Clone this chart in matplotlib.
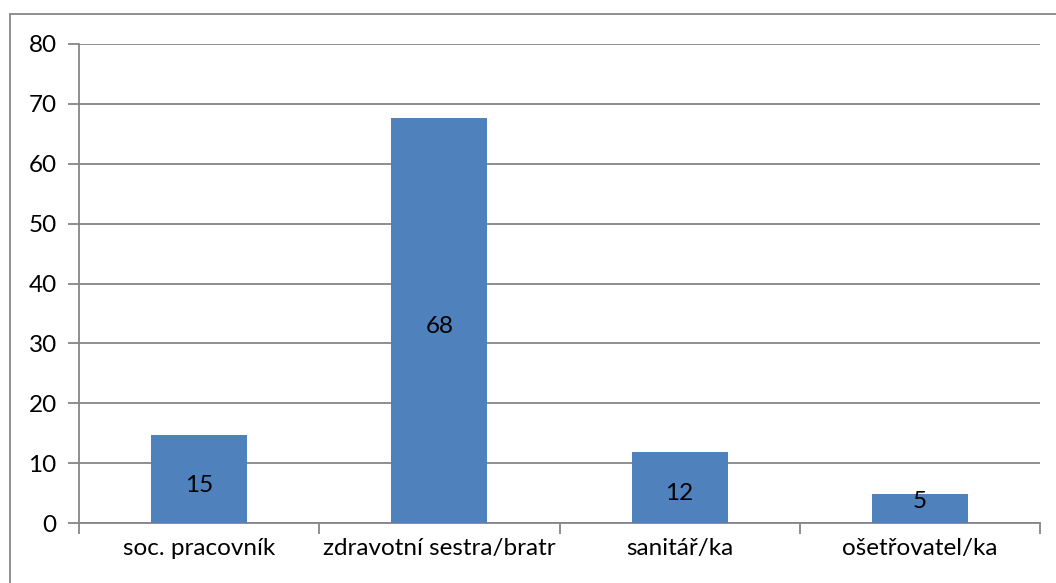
import matplotlib
matplotlib.use("Agg")
import matplotlib.pyplot as plt
from matplotlib.patches import Rectangle

categories = ["soc. pracovník", "zdravotní sestra/bratr", "sanitář/ka", "ošetřovatel/ka"]
values = [14.7, 67.6, 11.8, 4.9]
y_ticks = [0, 10, 20, 30, 40, 50, 60, 70, 80]

W, H = 1056, 583
fig = plt.figure(figsize=(W / 100, H / 100), dpi=100)
plt.rcParams["font.family"] = ["Lato", "DejaVu Sans"]

grey = "#868686"
bar_color = "#4f81bd"
fs = 17.5

# chart frame
fig.patches.append(Rectangle((10 / W, -0.1), 1.2, 1 - 14 / H + 0.1, transform=fig.transFigure,
                             fill=False, edgecolor=grey, linewidth=1.3, zorder=0))

left, right, top, bottom = 79, 1040, 44, 523
ax = fig.add_axes([left / W, 1 - bottom / H, (right - left) / W, (bottom - top) / H])

x = list(range(len(categories)))
bars = ax.bar(x, values, width=0.4, color=bar_color, zorder=3)

ax.set_xlim(-0.5, len(categories) - 0.5)
ax.set_ylim(0, 80)
ax.set_yticks(y_ticks)
ax.set_yticklabels([str(t) for t in y_ticks], fontsize=fs)
ax.yaxis.grid(True, color=grey, linewidth=1.3, zorder=0)
ax.set_axisbelow(True)

ax.set_xticks(x)
ax.set_xticklabels(categories, fontsize=fs)
ax.tick_params(axis="x", length=0, pad=11)
ax.set_xticks([i + 0.5 for i in range(-1, len(categories))], minor=True)
ax.tick_params(axis="x", which="minor", length=8, color=grey, width=1.3)
ax.tick_params(axis="y", length=8, color=grey, width=1.3, pad=8)

for s in ["top", "right"]:
    ax.spines[s].set_visible(False)
for s in ["left", "bottom"]:
    ax.spines[s].set_color(grey)
    ax.spines[s].set_linewidth(1.3)

# value labels centred in each bar
for xi, v in zip(x, values):
    ax.annotate(f"{v:.0f}", (xi, max(v / 2, 4.6)), xytext=(0, -4.5), textcoords="offset points",
                ha="center", va="center", fontsize=fs, zorder=4)

fig.savefig("out.png", dpi=100)
